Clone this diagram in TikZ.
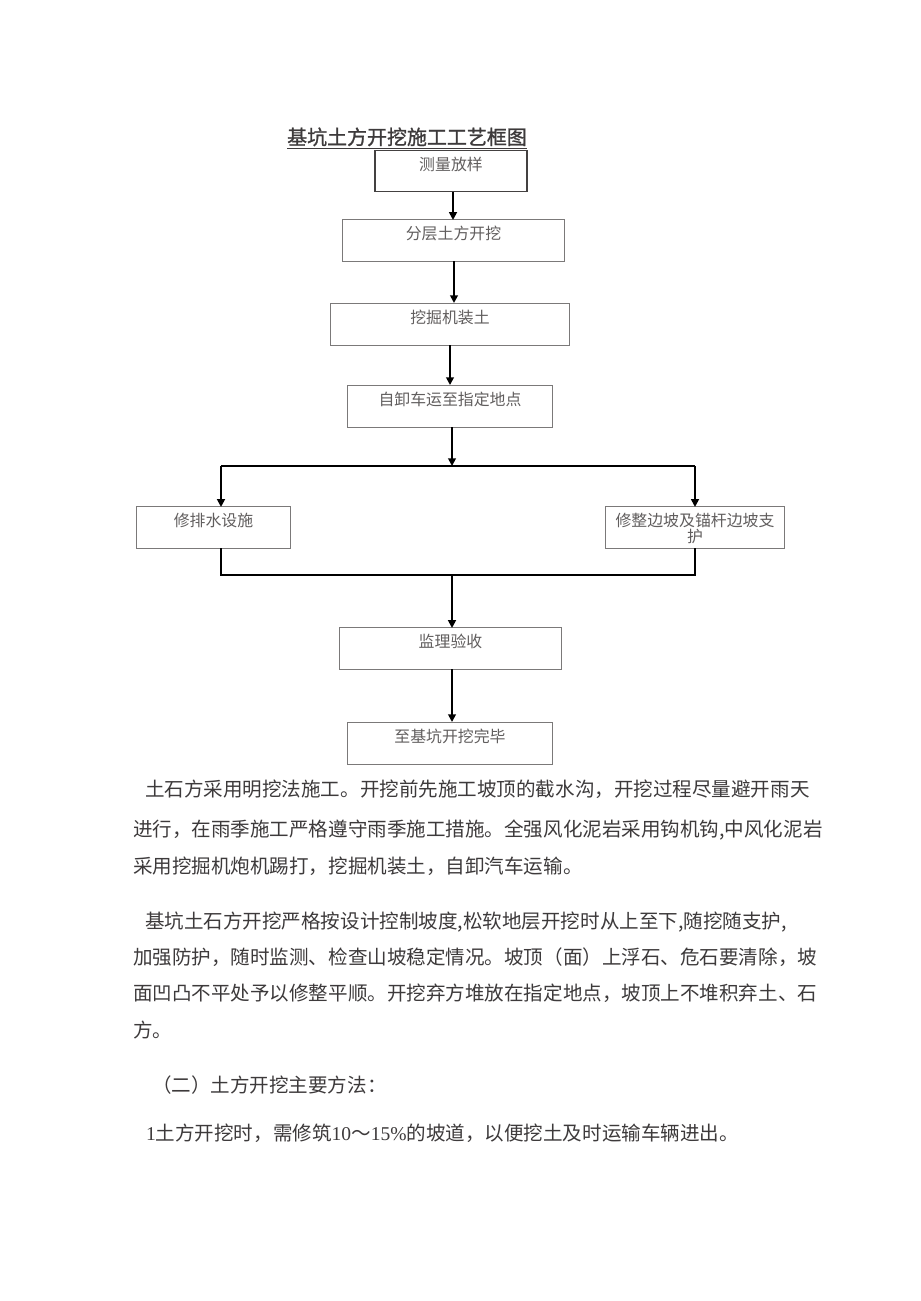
\documentclass[tikz,border=0pt]{standalone}
\usepackage{fontspec}
\setmainfont{Liberation Serif}
\newfontfamily\cjk[AutoFakeBold=1.2]{Noto Sans CJK SC}
\definecolor{ink}{cmyk}{0.00,0.00,0.00,0.88}
\definecolor{boxtext}{cmyk}{0.00,0.00,0.00,0.72}
\definecolor{boxline}{cmyk}{0.00,0.00,0.00,0.60}
\definecolor{darkgrey}{cmyk}{0.00,0.00,0.00,0.85}
\usetikzlibrary{arrows}
\usetikzlibrary{arrows.meta}
\usetikzlibrary{positioning}
\tikzstyle{base}=[x=0.025cm, y=-0.025cm, inner sep=0pt, outer sep=0pt]
\tikzstyle{stepbox}=[draw=boxline, line width=0.7pt, text=boxtext, font=\cjk\fontsize{11.3}{11.4}\selectfont, text height=14.2pt, text depth=15pt]
\tikzstyle{firstbox}=[stepbox, draw=darkgrey, line width=1.1pt]
\tikzstyle{flow}=[-{Triangle[length=5.5pt,width=5.5pt]}, line width=1.3pt, black]
\tikzstyle{joint}=[line width=1.3pt, black]
\tikzstyle{para}=[anchor=base west, text=ink, font=\cjk\fontsize{13.9}{16}\selectfont]

\begin{document}
\begin{tikzpicture}[base]
    \path [use as bounding box, fill=white] (0,0) rectangle (920,1301);
    \node [anchor=base, text=ink, font=\cjk\bfseries\fontsize{14.2}{16}\selectfont] (title) at (407,144.5) {\underline{基坑土方开挖施工工艺框图}};
    \node [firstbox, minimum width=3.8cm, minimum height=1.0cm] (measure) at (451,171) {测量放样};
    \node [stepbox, minimum width=5.525cm, minimum height=1.025cm] (layer) at (453.5,240.5) {分层土方开挖};
    \node [stepbox, minimum width=5.95cm, minimum height=1.05cm] (dig) at (450,324) {挖掘机装土};
    \node [stepbox, minimum width=5.1cm, minimum height=1.05cm] (haul) at (450,406) {自卸车运至指定地点};
    \node [stepbox, minimum width=3.825cm, minimum height=1.025cm] (drain) at (213.5,527.5) {修排水设施};
    \node [stepbox, minimum width=4.45cm, minimum height=1.025cm] (slope) at (695,527.5) {\parbox[t]{4.3cm}{\centering 修整边坡及锚杆边坡支\\护}};
    \node [stepbox, minimum width=5.525cm, minimum height=1.025cm] (accept) at (450.5,648.5) {监理验收};
    \node [stepbox, minimum width=5.1cm, minimum height=1.05cm] (finish) at (450,743) {至基坑开挖完毕};

    \coordinate (split) at (452,466);
    \coordinate (splitL) at (221,466);
    \coordinate (splitR) at (695,466);
    \coordinate (join) at (452,575);
    \coordinate (joinL) at (221,575);
    \coordinate (joinR) at (695,575);

    \draw [flow] (measure.south -| 453,0) -- (layer.north -| 453,0);
    \draw [flow] (layer.south -| 454,0) -- (dig.north -| 454,0);
    \draw [flow] (dig.south) -- (haul.north);
    \draw [flow] (haul.south -| split) -- (split);
    \draw [joint] (splitL) -- (splitR);
    \draw [flow] (splitL) -- (splitL |- drain.north);
    \draw [flow] (splitR) -- (splitR |- slope.north);
    \draw [joint] (splitL |- drain.south) -- (joinL) -- (joinR) -- (splitR |- slope.south);
    \draw [flow] (join) -- (join |- accept.north);
    \draw [flow] (accept.south -| join) -- (join |- finish.north);

    \node [para] (p1a) at (145,796.5) {土石方采用明挖法施工。开挖前先施工坡顶的截水沟，开挖过程尽量避开雨天};
    \node [para] (p1b) at (133,836.5) {进行，在雨季施工严格遵守雨季施工措施。全强风化泥岩采用钩机钩,中风化泥岩};
    \node [para] (p1c) at (133,873.5) {采用挖掘机炮机踢打，挖掘机装土，自卸汽车运输。};
    \node [para] (p2a) at (145,928.5) {基坑土石方开挖严格按设计控制坡度,松软地层开挖时从上至下,随挖随支护,};
    \node [para] (p2b) at (133,964.5) {加强防护，随时监测、检查山坡稳定情况。坡顶（面）上浮石、危石要清除，坡};
    \node [para] (p2c) at (133,1000.5) {面凹凸不平处予以修整平顺。开挖弃方堆放在指定地点，坡顶上不堆积弃土、石};
    \node [para] (p2d) at (133,1037.5) {方。};
    \node [para] (p3) at (152,1092.5) {（二）土方开挖主要方法：};
    \node [para] (p4) at (146,1140.5) {{\rmfamily 1}土方开挖时，需修筑{\rmfamily 10}～{\rmfamily 15\%}的坡道，以便挖土及时运输车辆进出。};
\end{tikzpicture}
\end{document}
